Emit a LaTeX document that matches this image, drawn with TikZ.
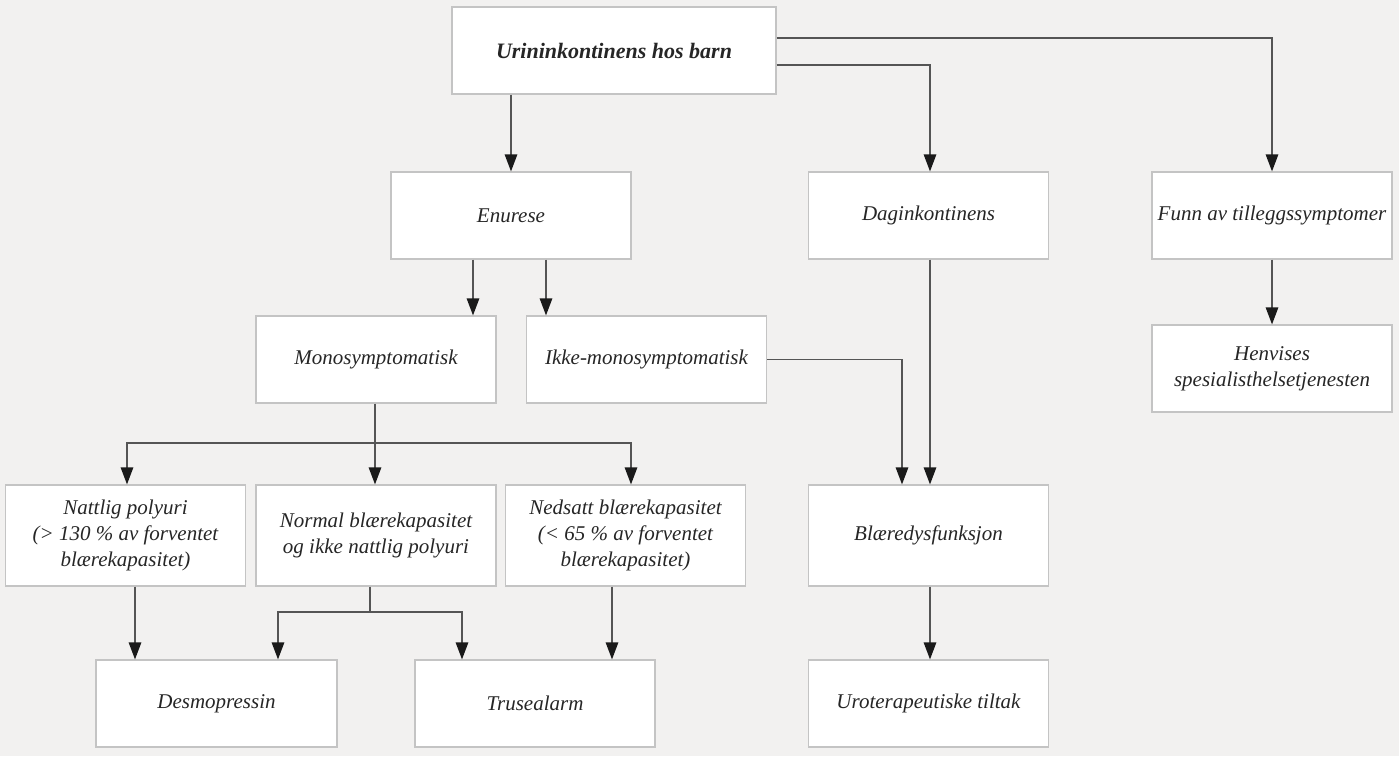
\documentclass[tikz,border=0pt]{standalone}
\usepackage{fontspec}
\setmainfont{Liberation Serif}
\usetikzlibrary{arrows.meta}
\definecolor{bg}{HTML}{F2F1F0}
\definecolor{boxline}{HTML}{C4C4C4}
\definecolor{conn}{HTML}{555555}
\definecolor{tipc}{HTML}{1A1A1A}
\begin{document}
\begin{tikzpicture}[x=1pt,y=-1pt,
  box/.style={draw=boxline, line width=1.2pt, fill=white, inner sep=0pt, align=center,
    font=\fontsize{21}{26}\selectfont\itshape, text=black!85},
  sbox/.style={box, minimum width=240pt, minimum height=87pt},
  tbox/.style={box, minimum width=240pt, minimum height=101pt},
  arr/.style={draw=conn, line width=1.3pt, -{Triangle[length=17pt,width=12.5pt,color=tipc,fill=tipc]}},
  ln/.style={draw=conn, line width=1.3pt}]
\fill[bg] (0,0) rectangle (1399,756);
\useasboundingbox (0,0) rectangle (1399,756);

\node[box, minimum width=324pt, minimum height=87pt, font=\fontsize{22}{26}\selectfont\bfseries\itshape] (top) at (614,50.5) {Urininkontinens hos barn};
\node[sbox] (enurese) at (511,215.5) {Enurese};
\node[sbox] (dag) at (928.5,215.5) {Daginkontinens};
\node[sbox] (funn) at (1272,215.5) {Funn av tilleggssymptomer};
\node[sbox] (mono) at (376,359.5) {Monosymptomatisk};
\node[sbox] (ikke) at (646.5,359.5) {Ikke-monosymptomatisk};
\node[sbox] (henv) at (1272,368.5) {Henvises\\spesialisthelsetjenesten};
\node[tbox] (natt) at (125.5,535.5) {Nattlig polyuri\\(> 130 \% av forventet\\blærekapasitet)};
\node[tbox] (normal) at (376,535.5) {Normal blærekapasitet\\og ikke nattlig polyuri};
\node[tbox] (nedsatt) at (625.5,535.5) {Nedsatt blærekapasitet\\(< 65 \% av forventet\\blærekapasitet)};
\node[tbox] (blaere) at (928.5,535.5) {Blæredysfunksjon};
\node[sbox, minimum width=241pt] (desmo) at (216.5,703.5) {Desmopressin};
\node[sbox] (truse) at (535,703.5) {Trusealarm};
\node[sbox] (uro) at (928.5,703.5) {Uroterapeutiske tiltak};

% top level
\draw[arr] (top.south -| enurese.north) -- (enurese.north);
\draw[arr] ([yshift=-14.5pt]top.east) -| ([xshift=1.5pt]dag.north);
\draw[arr] ([yshift=12.5pt]top.east) -| (funn.north);

% enurese
\draw[arr] ([xshift=-38pt]enurese.south) -- ([xshift=-38pt]enurese.south |- mono.north);
\draw[arr] ([xshift=35pt]enurese.south) -- ([xshift=35pt]enurese.south |- ikke.north);

% mono split
\coordinate (msplit) at (375,443);
\draw[ln] ([xshift=-1pt]mono.south) -- (msplit);
\draw[arr] (msplit) -| ([xshift=1.5pt]natt.north);
\draw[arr] (msplit) -- (msplit |- normal.north);
\draw[arr] (msplit) -| ([xshift=5.5pt]nedsatt.north);

% ikke and dag to blaere
\draw[arr] (ikke.east) -| ([xshift=-26.5pt]blaere.north);
\draw[arr] ([xshift=1.5pt]dag.south) -- ([xshift=1.5pt]blaere.north);

% funn
\draw[arr] (funn.south) -- (henv.north);

% third level
\draw[arr] ([xshift=9.5pt]natt.south) -- ([xshift=9.5pt]natt.south |- desmo.north);
\coordinate (nsplit) at (370,612);
\draw[ln] ([xshift=-6pt]normal.south) -- (nsplit);
\draw[arr] (nsplit) -| ([xshift=61.5pt]desmo.north);
\draw[arr] (nsplit) -| ([xshift=-73pt]truse.north);
\draw[arr] ([xshift=-13.5pt]nedsatt.south) -- ([xshift=-13.5pt]nedsatt.south |- truse.north);
\draw[arr] ([xshift=1.5pt]blaere.south) -- ([xshift=1.5pt]uro.north);
\end{tikzpicture}
\end{document}
